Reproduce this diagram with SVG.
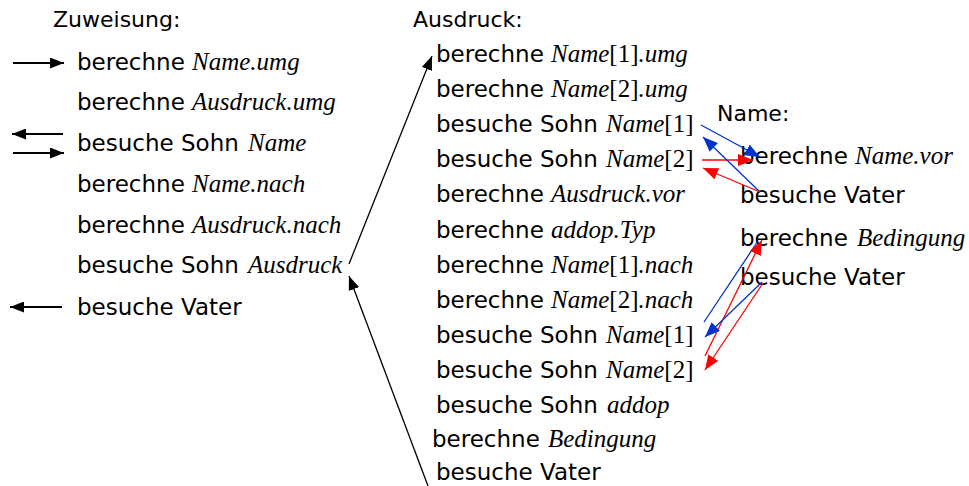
<svg xmlns="http://www.w3.org/2000/svg" width="969" height="486" viewBox="0 0 969 486">
  <style>
    .t { font-family: "DejaVu Sans", "Liberation Sans", sans-serif; font-size: 23px; fill: #000; }
    .h { font-family: "DejaVu Sans", "Liberation Sans", sans-serif; font-size: 22px; fill: #000; }
    .i { font-family: "Liberation Serif", serif; font-style: italic; font-size: 25px; }
    .r { font-family: "Liberation Serif", serif; font-style: normal; font-size: 25px; }
    .blk { stroke: #000; fill: none; }
    .blue { stroke: #0033cc; stroke-width: 1.3; fill: none; }
    .red { stroke: #ff0000; stroke-width: 1.3; fill: none; }
  </style>
  <defs>
    <marker id="hb" markerUnits="userSpaceOnUse" markerWidth="14" markerHeight="11" refX="14" refY="5.5" orient="auto">
      <path d="M0,0 L14,5.5 L0,11 z" fill="#000"/>
    </marker>
    <marker id="hblue" markerUnits="userSpaceOnUse" markerWidth="15" markerHeight="12" refX="15" refY="6" orient="auto">
      <path d="M0,0 L15,6 L0,12 z" fill="#0033cc"/>
    </marker>
    <marker id="hred" markerUnits="userSpaceOnUse" markerWidth="15" markerHeight="12" refX="15" refY="6" orient="auto">
      <path d="M0,0 L15,6 L0,12 z" fill="#ff0000"/>
    </marker>
  </defs>
  <rect width="969" height="486" fill="#fff"/>

  <!-- Zuweisung -->
  <g id="zuweisung">
    <text class="h" x="53" y="27">Zuweisung:</text>
    <text class="t" x="77" y="70">berechne <tspan class="i" x="192">Name.umg</tspan></text>
    <text class="t" x="77" y="110">berechne <tspan class="i" x="192">Ausdruck.umg</tspan></text>
    <text class="t" x="77" y="151">besuche Sohn <tspan class="i" x="248">Name</tspan></text>
    <text class="t" x="77" y="192">berechne <tspan class="i" x="192">Name.nach</tspan></text>
    <text class="t" x="77" y="233">berechne <tspan class="i" x="192">Ausdruck.nach</tspan></text>
    <text class="t" x="77" y="273">besuche Sohn <tspan class="i" x="248">Ausdruck</tspan></text>
    <text class="t" x="77" y="315">besuche Vater</text>
  </g>

  <!-- Ausdruck -->
  <g id="ausdruck">
    <text class="h" x="413" y="27">Ausdruck:</text>
    <text class="t" x="436" y="62">berechne <tspan class="i" x="551">Name</tspan><tspan class="r">[1]</tspan><tspan class="i">.umg</tspan></text>
    <text class="t" x="436" y="97">berechne <tspan class="i" x="551">Name</tspan><tspan class="r">[2]</tspan><tspan class="i">.umg</tspan></text>
    <text class="t" x="436" y="132">besuche Sohn <tspan class="i" x="606">Name</tspan><tspan class="r">[1]</tspan></text>
    <text class="t" x="436" y="167">besuche Sohn <tspan class="i" x="606">Name</tspan><tspan class="r">[2]</tspan></text>
    <text class="t" x="436" y="202">berechne <tspan class="i" x="551">Ausdruck.vor</tspan></text>
    <text class="t" x="436" y="238">berechne <tspan class="i" x="551">addop.Typ</tspan></text>
    <text class="t" x="436" y="273">berechne <tspan class="i" x="551">Name</tspan><tspan class="r">[1]</tspan><tspan class="i">.nach</tspan></text>
    <text class="t" x="436" y="308">berechne <tspan class="i" x="551">Name</tspan><tspan class="r">[2]</tspan><tspan class="i">.nach</tspan></text>
    <text class="t" x="436" y="343">besuche Sohn <tspan class="i" x="606">Name</tspan><tspan class="r">[1]</tspan></text>
    <text class="t" x="436" y="378">besuche Sohn <tspan class="i" x="606">Name</tspan><tspan class="r">[2]</tspan></text>
    <text class="t" x="436" y="413">besuche Sohn <tspan class="i" x="607">addop</tspan></text>
    <text class="t" x="432" y="447">berechne <tspan class="i" x="548">Bedingung</tspan></text>
    <text class="t" x="436" y="480">besuche Vater</text>
  </g>

  <!-- Name -->
  <g id="name">
    <text class="h" x="717" y="121">Name:</text>
    <text class="t" x="740" y="164">berechne <tspan class="i" x="855">Name.vor</tspan></text>
    <text class="t" x="740" y="203">besuche Vater</text>
    <text class="t" x="740" y="246">berechne <tspan class="i" x="857">Bedingung</tspan></text>
    <text class="t" x="740" y="285">besuche Vater</text>
  </g>

  <!-- connectors -->
  <g id="connectors">
    <line class="blk" stroke-width="2" x1="13" y1="63" x2="64" y2="63" marker-end="url(#hb)"/>
    <line class="blk" stroke-width="2" x1="63" y1="134" x2="12" y2="134" marker-end="url(#hb)"/>
    <line class="blk" stroke-width="2" x1="13" y1="153" x2="64" y2="153" marker-end="url(#hb)"/>
    <line class="blk" stroke-width="2" x1="62" y1="307" x2="10" y2="307" marker-end="url(#hb)"/>

    <line class="blk" stroke-width="1.3" x1="349" y1="264" x2="432" y2="56" marker-end="url(#hb)"/>
    <line class="blk" stroke-width="1.3" x1="428" y1="486" x2="349" y2="276" marker-end="url(#hb)"/>

    <line class="blue" x1="701" y1="125" x2="760" y2="157" marker-end="url(#hblue)"/>
    <line class="red" stroke-width="2.5" x1="702" y1="160" x2="753" y2="160" marker-end="url(#hred)"/>
    <line class="blue" x1="760" y1="192" x2="703" y2="137" marker-end="url(#hblue)"/>
    <line class="red" x1="760" y1="192" x2="703" y2="168" marker-end="url(#hred)"/>

    <line class="blue" x1="704" y1="322" x2="758" y2="241"/>
    <line class="red" x1="705" y1="356" x2="762" y2="240" marker-end="url(#hred)"/>
    <line class="blue" x1="762" y1="282" x2="705" y2="337" marker-end="url(#hblue)"/>
    <line class="red" x1="763" y1="283" x2="705" y2="370" marker-end="url(#hred)"/>
  </g>
</svg>
